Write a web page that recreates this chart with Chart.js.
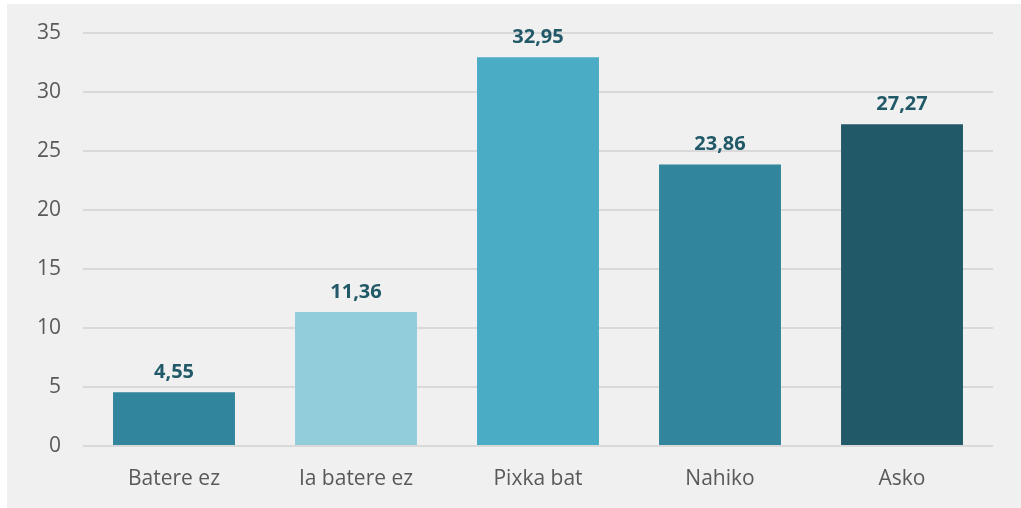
<!DOCTYPE html>
<html><head><meta charset="utf-8">
<script src="https://cdn.jsdelivr.net/npm/chart.js@4.4.1/dist/chart.umd.min.js"></script>
<style>
html,body{margin:0;padding:0;background:#fff;width:1021px;height:508px;overflow:hidden;}
#wrap{position:absolute;left:7px;top:4px;width:1014px;height:504px;background:#f0f0f0;}
</style></head>
<body>
<div id="wrap"><canvas id="c" width="1014" height="504"></canvas></div>
<script>
const categories = ["Batere ez", "Ia batere ez", "Pixka bat", "Nahiko", "Asko"];
const values = [4.55, 11.36, 32.95, 23.86, 27.27];
const barColors = ["#31859c", "#92cddc", "#4bacc6", "#31859c", "#215968"];
const yTicks = [0, 5, 10, 15, 20, 25, 30, 35];

const labelPlugin = {
  id: 'valLabels',
  afterDatasetsDraw(chart) {
    const ctx = chart.ctx;
    const meta = chart.getDatasetMeta(0);
    ctx.save();
    ctx.font = 'bold 20px "Open Sans", sans-serif';
    ctx.fillStyle = '#215968';
    ctx.textAlign = 'center';
    ctx.textBaseline = 'middle';
    meta.data.forEach((bar, i) => {
      ctx.fillText(values[i].toFixed(2).replace('.', ','), bar.x, bar.y - 20);
    });
    ctx.restore();
  }
};

new Chart(document.getElementById('c'), {
  type: 'bar',
  data: {
    labels: categories,
    datasets: [{ data: values, backgroundColor: barColors, categoryPercentage: 1, barPercentage: 0.67 }]
  },
  plugins: [labelPlugin],
  options: {
    responsive: false,
    animation: false,
    layout: { padding: { top: 29, right: 28, left: 0, bottom: 0 } },
    plugins: { legend: { display: false }, tooltip: { enabled: false } },
    scales: {
      x: {
        grid: { display: false, drawTicks: false },
        border: { display: false },
        ticks: { color: '#595959', font: { family: '"Open Sans", sans-serif', size: 21 }, padding: 20 },
        afterFit(s) { s.height = 62; s.paddingLeft = 0; s.paddingRight = 0; }
      },
      y: {
        min: 0, max: 35,
        afterBuildTicks(s) { s.ticks = yTicks.map(v => ({ value: v })); },
        grid: { color: '#d9d9d9', lineWidth: 2, drawTicks: false },
        border: { display: false },
        ticks: { color: '#595959', font: { family: '"Open Sans", sans-serif', size: 21 }, padding: 22 },
        afterFit(s) { s.width = 76; s.paddingTop = 0; s.paddingBottom = 0; }
      }
    }
  }
});
</script>
</body></html>
